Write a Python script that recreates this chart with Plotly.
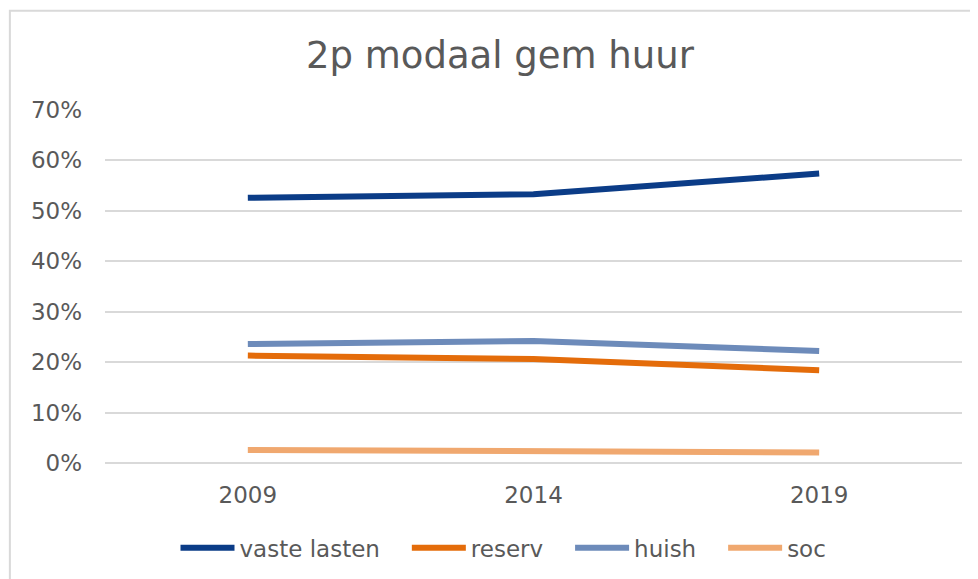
"""2p modaal gem huur - lijngrafiek
"""

from plotly.graph_objects import Scatter, Figure

# data
jaren = ["2009", "2014", "2019"]
vaste_lasten = [0.526, 0.533, 0.574]
reserv = [0.213, 0.206, 0.184]
huish = [0.236, 0.242, 0.222]
soc = [0.026, 0.023, 0.021]

series = [
    ("vaste lasten", vaste_lasten, "#0B3C87"),
    ("reserv", reserv, "#E46C0A"),
    ("huish", huish, "#6D8BBA"),
    ("soc", soc, "#F0A86F"),
]

grijs = "#595959"
ruimte = "\u00a0" * 3  # extra ruimte tussen legenda-items

fig = Figure()
for i, (naam, waarden, kleur) in enumerate(series):
    label = naam if i == len(series) - 1 else naam + ruimte
    fig.add_trace(Scatter(x=jaren, y=waarden, name=label, mode="lines",
                          line=dict(color=kleur, width=6)))

# de pagina heeft 8px marge, dus alles 8px naar links/boven
fig.update_layout(
    width=978, height=579,
    margin=dict(l=97, r=24, t=102, b=124),
    paper_bgcolor="white", plot_bgcolor="white",
    font=dict(family="DejaVu Sans", size=23, color=grijs),
    title=dict(text="2p modaal gem huur", x=0.503, xanchor="center",
               y=0.919, yanchor="middle",
               font=dict(family="DejaVu Sans", size=37, color=grijs)),
    legend=dict(orientation="h", x=0.465, xanchor="center", y=-0.179, yanchor="top",
                font=dict(size=23, color=grijs), itemwidth=54),
    showlegend=True,
)
fig.update_xaxes(type="category", range=[-0.5, 2.5], showgrid=False, showline=False,
                 ticks="", ticklabelstandoff=16, tickfont=dict(size=23, color=grijs))
fig.update_yaxes(range=[0, 0.7], dtick=0.1, tickformat=".0%",
                 showgrid=True, gridcolor="#D9D9D9", gridwidth=2,
                 zeroline=True, zerolinecolor="#D9D9D9", zerolinewidth=2,
                 showline=False, ticks="", ticklabelstandoff=22,
                 tickfont=dict(size=23, color=grijs))

# rand om de grafiek (alleen links en boven zichtbaar)
fig.add_shape(type="rect", xref="paper", yref="paper",
              x0=-0.111, x1=1.1, y0=-0.5, y1=1.281,
              line=dict(color="#D9D9D9", width=2), layer="below")

fig.write_html("out.html")
